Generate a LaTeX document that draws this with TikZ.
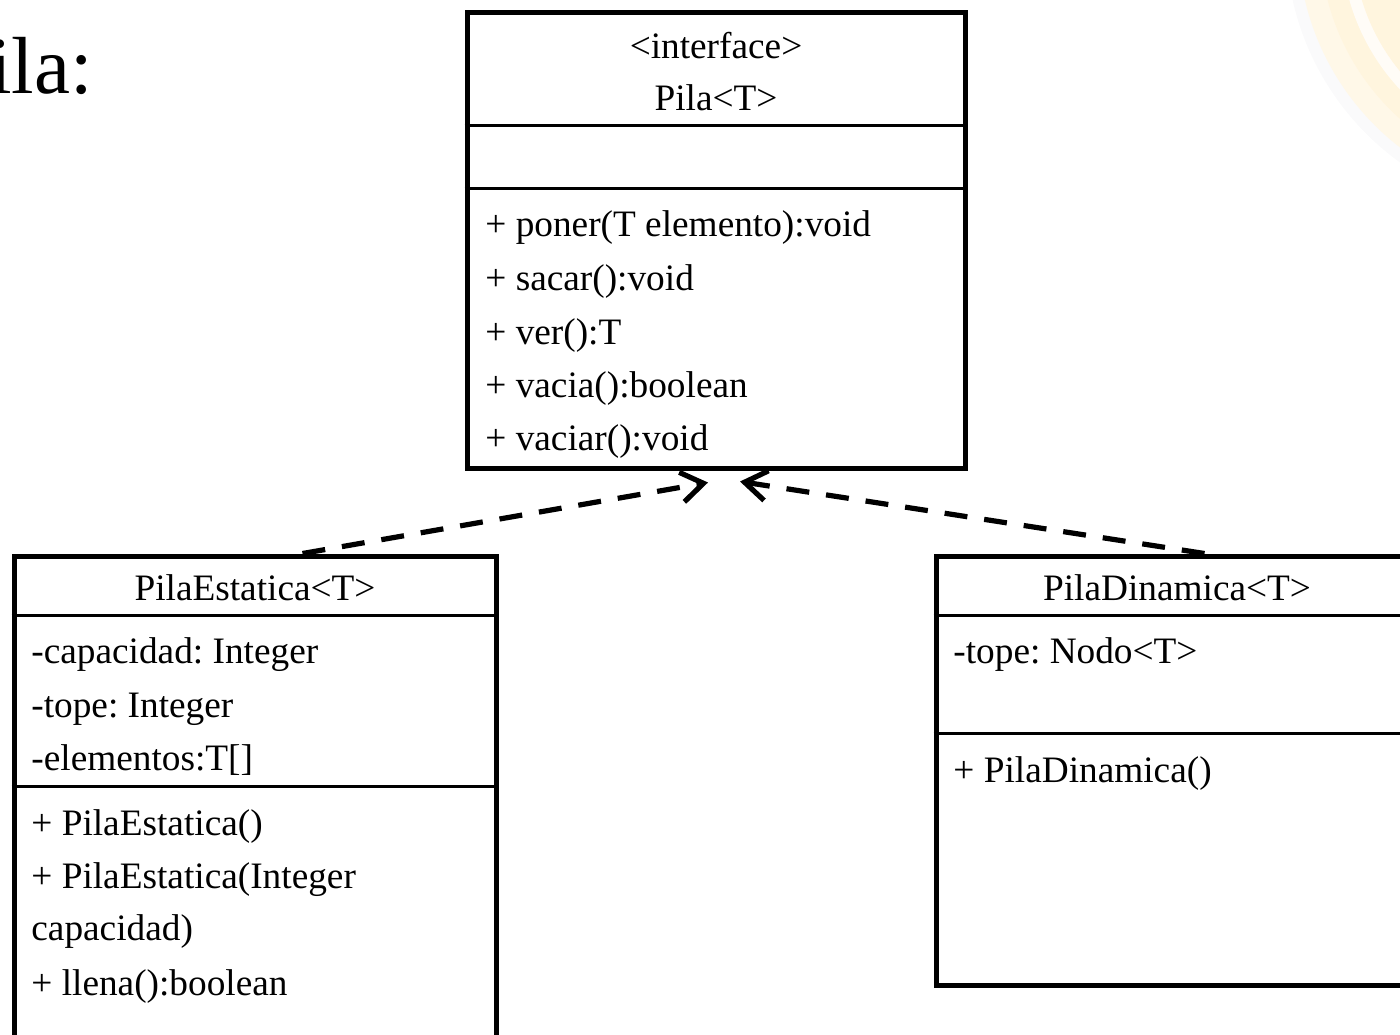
\documentclass[tikz,border=0pt]{standalone}
\usepackage{fontspec}
\setmainfont{Liberation Serif}
\usetikzlibrary{arrows.meta,calc}

\definecolor{logofill}{RGB}{255,245,222}
\definecolor{logoshade}{RGB}{250,250,251}

\begin{document}
\frenchspacing
\begin{tikzpicture}[x=0.5pt,y=-0.5pt,
  classbox/.style={draw=black,line width=2.5pt,fill=white,inner sep=0pt},
  divider/.style={line width=1.4pt},
  member/.style={anchor=base west,inner sep=0pt,font=\fontsize{18.65}{22}\selectfont},
  heading/.style={anchor=base,inner sep=0pt,font=\fontsize{18.65}{22}\selectfont},
  realizes/.style={line width=2.6pt,dash pattern=on 11.5pt off 8.5pt,
    -{Straight Barb[length=11pt,width=15pt,line width=2.6pt]}}]

\useasboundingbox (0,0) rectangle (1400,1034);
\clip (0,0) rectangle (1400,1034);

% faint logo arcs in the upper right corner
\fill[logoshade] (1560,-60) circle (274);
\fill[logofill!70!white] (1560,-60) circle (262);
\fill[logofill] (1560,-60) circle (240);
\fill[white!75!logofill] (1560,-60) circle (219);
\fill[logofill] (1560,-60) circle (207);

% slide title
\node[anchor=base west,inner sep=0pt,font=\fontsize{40.5}{48}\selectfont] (slidetitle) at (-56,93) {Pila:};

% interface Pila<T>
\node[classbox,minimum width=249pt,minimum height=228pt] (pila) at (716,240) {};
\draw[divider] ($(pila.north west)+(0,116)$) -- ($(pila.north east)+(0,116)$);
\draw[divider] ($(pila.north west)+(0,179)$) -- ($(pila.north east)+(0,179)$);
\node[heading] (pilaStereo) at (716,58) {<interface>};
\node[heading] (pilaName) at (716,110) {Pila<T>};
\node[member] (pilaM1) at (485,236) {+ poner(T elemento):void};
\node[member] (pilaM2) at (485,290) {+ sacar():void};
\node[member] (pilaM3) at (485,344) {+ ver():T};
\node[member] (pilaM4) at (485,397) {+ vacia():boolean};
\node[member] (pilaM5) at (485,450) {+ vaciar():void};

% class PilaEstatica<T>
\node[classbox,minimum width=241pt,minimum height=262pt] (estatica) at (255,818) {};
\draw[divider] ($(estatica.north west)+(0,62)$) -- ($(estatica.north east)+(0,62)$);
\draw[divider] ($(estatica.north west)+(0,233)$) -- ($(estatica.north east)+(0,233)$);
\node[heading] (estName) at (255,600) {PilaEstatica<T>};
\node[member] (estA1) at (31,663) {-capacidad: Integer};
\node[member] (estA2) at (31,717) {-tope: Integer};
\node[member] (estA3) at (31,770) {-elementos:T[]};
\node[member] (estM1) at (31,835) {+ PilaEstatica()};
\node[member] (estM2) at (31,888) {+ PilaEstatica(Integer};
\node[member] (estM2b) at (31,940) {capacidad)};
\node[member] (estM3) at (31,995) {+ llena():boolean};

% class PilaDinamica<T>
\node[classbox,minimum width=241pt,minimum height=214.5pt] (dinamica) at (1177,770.5) {};
\draw[divider] ($(dinamica.north west)+(0,62)$) -- ($(dinamica.north east)+(0,62)$);
\draw[divider] ($(dinamica.north west)+(0,180)$) -- ($(dinamica.north east)+(0,180)$);
\node[heading] (dinName) at (1177,600) {PilaDinamica<T>};
\node[member] (dinA1) at (953,663) {-tope: Nodo<T>};
\node[member] (dinM1) at (953,782) {+ PilaDinamica()};

% realization arrows towards the interface
\coordinate (estTop) at ($(estatica.north west)+(291,0)$);
\coordinate (dinTop) at ($(dinamica.north west)+(271,0)$);
\coordinate (pilaTipL) at ($(pila.south)+(-8,12)$);
\coordinate (pilaTipR) at ($(pila.south)+(24,11)$);
\draw[realizes] (estTop) -- (pilaTipL);
\draw[realizes] (dinTop) -- (pilaTipR);
\end{tikzpicture}
\end{document}
